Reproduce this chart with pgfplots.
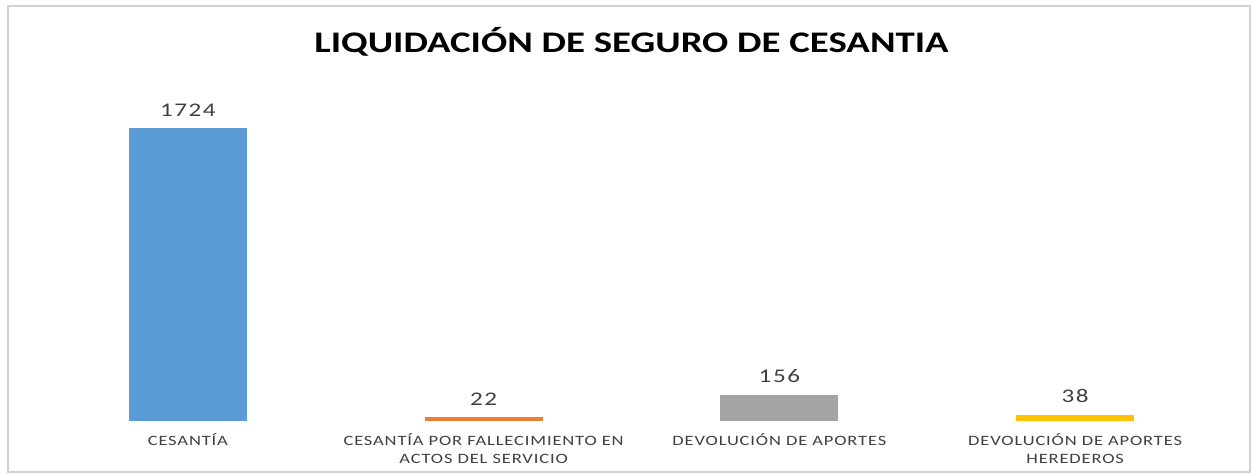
\documentclass[border=0pt]{standalone}
\usepackage{pgfplots}
\pgfplotsset{compat=1.18}
\usepackage{fontspec}
\setmainfont{Carlito}[FakeStretch=1.3]
\newfontfamily\lblfont{Carlito}[FakeStretch=1.3, LetterSpace=6]
\newfontfamily\numfont{Carlito}[FakeStretch=1.3, LetterSpace=8]
\definecolor{cBlue}{HTML}{5B9BD5}
\definecolor{cOrange}{HTML}{ED7D31}
\definecolor{cGray}{HTML}{A5A5A5}
\definecolor{cGold}{HTML}{FFC000}
\definecolor{txt}{HTML}{404040}
\begin{document}
\begin{tikzpicture}
\begin{axis}[
  width=23.66cm, height=6.62cm, scale only axis,
  xmin=-0.5, xmax=3.5, ymin=0, ymax=1950,
  axis y line=none, axis x line=bottom,
  x axis line style={draw=none},
  major tick length=0pt,
  xtick={0,1,2,3},
  xticklabels={{CESANTÍA},{CESANTÍA POR FALLECIMIENTO EN\\ACTOS DEL SERVICIO},{DEVOLUCIÓN DE APORTES},{DEVOLUCIÓN DE APORTES\\HEREDEROS}},
  xticklabel style={align=center, text=txt, font=\lblfont\fontsize{8.1}{10.5}\selectfont, anchor=north, yshift=-0.12cm},
  ybar, bar width=2.36cm, bar shift=0pt,
  clip=false,
  /pgf/number format/assume math mode=true,
  /pgf/number format/1000 sep={},
  nodes near coords,
  nodes near coords style={font=\numfont\fontsize{11}{12}\selectfont, text=txt, yshift=0.12cm},
  title={\fontsize{17}{19}\selectfont\bfseries LIQUIDACIÓN DE SEGURO DE CESANTIA},
  title style={at={(0.5,1)}, anchor=center, yshift=0.76cm},
]
\addplot[fill=cBlue, draw=none] coordinates {(0,1724)};
\addplot[fill=cOrange, draw=none] coordinates {(1,22)};
\addplot[fill=cGray, draw=none] coordinates {(2,156)};
\addplot[fill=cGold, draw=none] coordinates {(3,38)};
\end{axis}
\draw[gray!35, line width=1.2pt] ([xshift=-0.64cm,yshift=-1.02cm]current axis.south west) rectangle ([xshift=0.54cm,yshift=1.68cm]current axis.north east);
\path ([xshift=-0.8cm,yshift=-1.08cm]current axis.south west) rectangle ([xshift=0.66cm,yshift=1.8cm]current axis.north east);
\end{tikzpicture}
\end{document}
